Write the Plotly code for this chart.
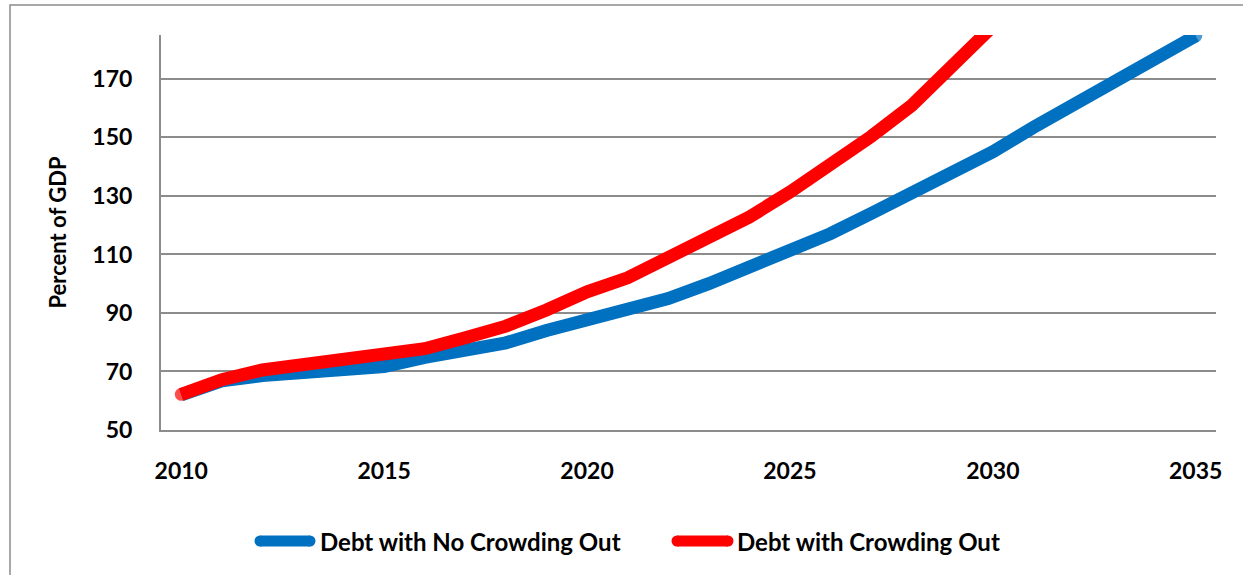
import plotly.graph_objects as go

years = list(range(2010, 2036))
no_crowding = [62.0, 66.8, 68.6, 69.6, 70.4, 71.7, 74.8, 77.2, 79.8, 84.0, 87.4,
               91.0, 94.9, 100.0, 105.7, 111.4, 117.1, 124.0, 130.8, 137.6, 145.1,
               153.4, 161.0, 169.0, 176.9, 184.7]
crowd_years = list(range(2010, 2031))
crowding = [62.2, 67.2, 70.5, 72.2, 73.3, 75.2, 77.8, 81.5, 85.5, 91.0, 97.2,
            102.0, 109.2, 116.0, 122.8, 131.3, 140.4, 150.3, 160.9, 174.0, 188.0]
series_names = ["Debt with No Crowding Out", "Debt with Crowding Out"]
series_colors = ["#0070C0", "#FF0000"]
y_ticks = [50, 70, 90, 110, 130, 150, 170]
x_ticks = [2010, 2015, 2020, 2025, 2030, 2035]

FONT = "Lato"
LW = 13

fig = go.Figure()
# blue: round cap at the end only (start is hidden under the red line)
blue_sizes = [0] * (len(years) - 1) + [LW]
red_sizes = [LW] + [0] * (len(crowd_years) - 1)
for xs, ys, name, col, sizes in [
        (years, no_crowding, series_names[0], series_colors[0], blue_sizes),
        (crowd_years, crowding, series_names[1], series_colors[1], red_sizes)]:
    fig.add_trace(go.Scatter(
        x=xs, y=ys, name=name, mode="lines+markers",
        line=dict(color=col, width=LW),
        marker=dict(size=sizes, color=col, line=dict(width=0)),
        showlegend=False, hoverinfo="x+y+name",
    ))

L, R, T, B = 161, 27, 35, 145
W, H = 1243, 575
pw = W - L - R
ph = H - T - B

def px_x(p):
    return (p - L) / pw

def px_y(p):
    return (H - B - p) / ph

shapes = []
# outer chart frame (cropped)
shapes.append(dict(type="rect", xref="paper", yref="paper",
                   x0=px_x(10), x1=px_x(1260), y0=px_y(600), y1=px_y(5),
                   line=dict(color="#8c8c8c", width=1.5), fillcolor="rgba(0,0,0,0)",
                   layer="below"))

annotations = []
legend_items = [(255, 315, 318), (672, 733, 735)]
ly = px_y(541)
for (sx0, sx1, tx), name, col in zip(legend_items, series_names, series_colors):
    shapes.append(dict(type="line", xref="paper", yref="paper",
                       x0=px_x(sx0 + 5), x1=px_x(sx1 - 5), y0=ly, y1=ly,
                       line=dict(color=col, width=11)))
    for cx in (sx0 + 5, sx1 - 5):
        shapes.append(dict(type="circle", xref="paper", yref="paper",
                           xsizemode="pixel", ysizemode="pixel",
                           xanchor=px_x(cx), yanchor=ly,
                           x0=-5.5, x1=5.5, y0=-5.5, y1=5.5,
                           fillcolor=col, line=dict(width=0)))
    annotations.append(dict(xref="paper", yref="paper", x=px_x(tx), y=ly,
                            xanchor="left", yanchor="middle", showarrow=False,
                            text=name, font=dict(family=FONT, size=24, color="#000000",
                                                 weight="bold")))

fig.update_layout(
    width=W, height=H,
    margin=dict(l=L, r=R, t=T, b=B, autoexpand=False),
    paper_bgcolor="white", plot_bgcolor="white",
    font=dict(family=FONT, color="#000000"),
    shapes=shapes, annotations=annotations,
    xaxis=dict(range=[2009.5, 2035.5], tickmode="array", tickvals=x_ticks,
               ticktext=[str(v) for v in x_ticks],
               showgrid=False, zeroline=False, showline=True,
               linecolor="#8c8c8c", linewidth=2, ticks="",
               ticklabelstandoff=19,
               tickfont=dict(family=FONT, size=23, color="#000000", weight="bold")),
    yaxis=dict(range=[50, 185], tickmode="array", tickvals=y_ticks,
               showgrid=True, gridcolor="#8c8c8c", gridwidth=2,
               zeroline=False, showline=True, linecolor="#8c8c8c", linewidth=2,
               ticks="", ticklabelstandoff=22,
               tickfont=dict(family=FONT, size=23, color="#000000", weight="bold"),
               title=dict(text="Percent of GDP", standoff=20,
                          font=dict(family=FONT, size=22, color="#000000", weight="bold"))),
)

fig.write_html("out.html", config={"displayModeBar": False},
               post_script="document.body.style.margin='0';document.body.style.overflow='hidden';")
